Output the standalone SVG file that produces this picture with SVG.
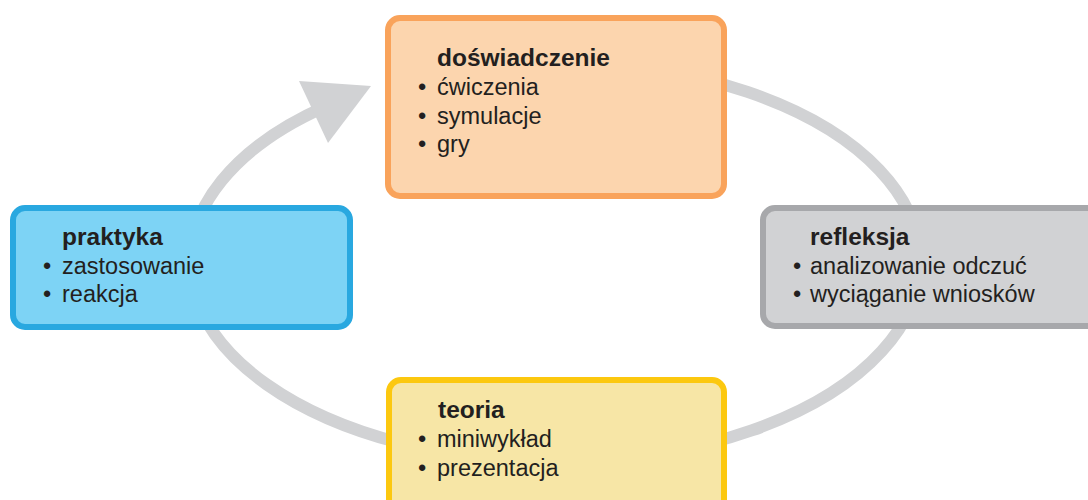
<svg xmlns="http://www.w3.org/2000/svg" width="1088" height="500" viewBox="0 0 1088 500">
<style>
.t{font-family:"Liberation Sans",Arial,sans-serif;font-size:23.5px;fill:#231f20}
.h{font-weight:bold;font-size:24.5px}
.cyc{fill:none;stroke:#d1d2d4;stroke-width:12}
</style>
<rect width="1088" height="500" fill="#fff"/>
<g id="connectors">
<path class="cyc" d="M395,82.2 A365,200 0 1 1 325,106.7"/>
<polygon points="299,81 371,86 328,143" fill="#d1d2d4"/>
</g>
<g id="doswiadczenie">
<rect x="388" y="18" width="336" height="178" rx="12" fill="#fcd5ae" stroke="#f9a35b" stroke-width="6"/>
<text class="t h" x="437" y="66">doświadczenie</text>
<text class="t"><tspan x="418" y="95">•</tspan><tspan x="437" y="95">ćwiczenia</tspan></text>
<text class="t"><tspan x="418" y="124">•</tspan><tspan x="437" y="124">symulacje</tspan></text>
<text class="t"><tspan x="418" y="152">•</tspan><tspan x="437" y="152">gry</tspan></text>
</g>
<g id="refleksja">
<rect x="763" y="208" width="340" height="118" rx="12" fill="#d1d2d4" stroke="#a7a8ab" stroke-width="6"/>
<text class="t h" x="810" y="245">refleksja</text>
<text class="t"><tspan x="793" y="274">•</tspan><tspan x="810" y="274">analizowanie odczuć</tspan></text>
<text class="t"><tspan x="793" y="302">•</tspan><tspan x="810" y="302">wyciąganie wniosków</tspan></text>
</g>
<g id="praktyka">
<rect x="13" y="208" width="337" height="119" rx="12" fill="#7dd3f5" stroke="#29a8e0" stroke-width="6"/>
<text class="t h" x="62" y="245">praktyka</text>
<text class="t"><tspan x="43" y="274">•</tspan><tspan x="62" y="274">zastosowanie</tspan></text>
<text class="t"><tspan x="43" y="302">•</tspan><tspan x="62" y="302">reakcja</tspan></text>
</g>
<g id="teoria">
<rect x="389" y="380" width="335" height="140" rx="12" fill="#f7e6a6" stroke="#fcc80f" stroke-width="6"/>
<text class="t h" x="438" y="418">teoria</text>
<text class="t"><tspan x="418" y="447">•</tspan><tspan x="437" y="447">miniwykład</tspan></text>
<text class="t"><tspan x="418" y="476">•</tspan><tspan x="437" y="476">prezentacja</tspan></text>
</g>
</svg>
